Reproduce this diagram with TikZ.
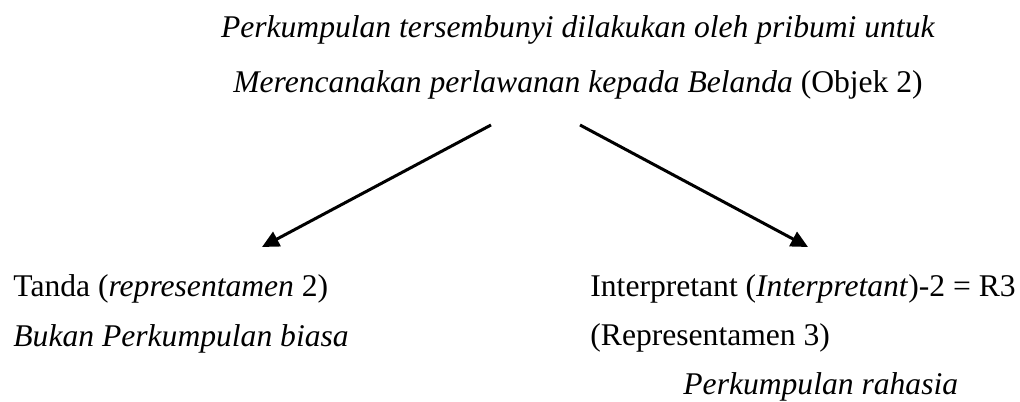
\documentclass[tikz,border=0pt]{standalone}
\usepackage{fontspec}
\setmainfont{Liberation Serif}
\usetikzlibrary{arrows.meta}
\begin{document}
\begin{tikzpicture}[x=0.5pt,y=-0.5pt,
  txt/.style={anchor=base west,inner sep=0pt,font=\fontsize{15.8pt}{19pt}\selectfont},
  ctxt/.style={anchor=base,inner sep=0pt,font=\fontsize{15.8pt}{19pt}\selectfont},
  conn/.style={line width=1.5pt,-{Triangle[length=8.5pt,width=8pt]}}]
\useasboundingbox (0,0) rectangle (1020,401);
\node[ctxt] (obj1) at (578,38) {\textit{Perkumpulan tersembunyi dilakukan oleh pribumi untuk}};
\node[ctxt] (obj2) at (578,92) {\textit{Merencanakan perlawanan kepada Belanda} (Objek 2)};
\node[txt] (r2a) at (13,296) {Tanda (\textit{representamen} 2)};
\node[txt] (r2b) at (13,346) {\textit{Bukan Perkumpulan biasa}};
\node[txt] (i1) at (590,296) {Interpretant (\textit{Interpretant})-2 = R3};
\node[txt] (i2) at (590,345) {(Representamen 3)};
\node[txt] (i3) at (683,394) {\textit{Perkumpulan rahasia}};
\coordinate (sL) at (491,125);
\coordinate (sR) at (580,125);
\coordinate (eL) at (262,247);
\coordinate (eR) at (808,247);
\draw[conn] (sL) -- (eL);
\draw[conn] (sR) -- (eR);
\end{tikzpicture}
\end{document}
